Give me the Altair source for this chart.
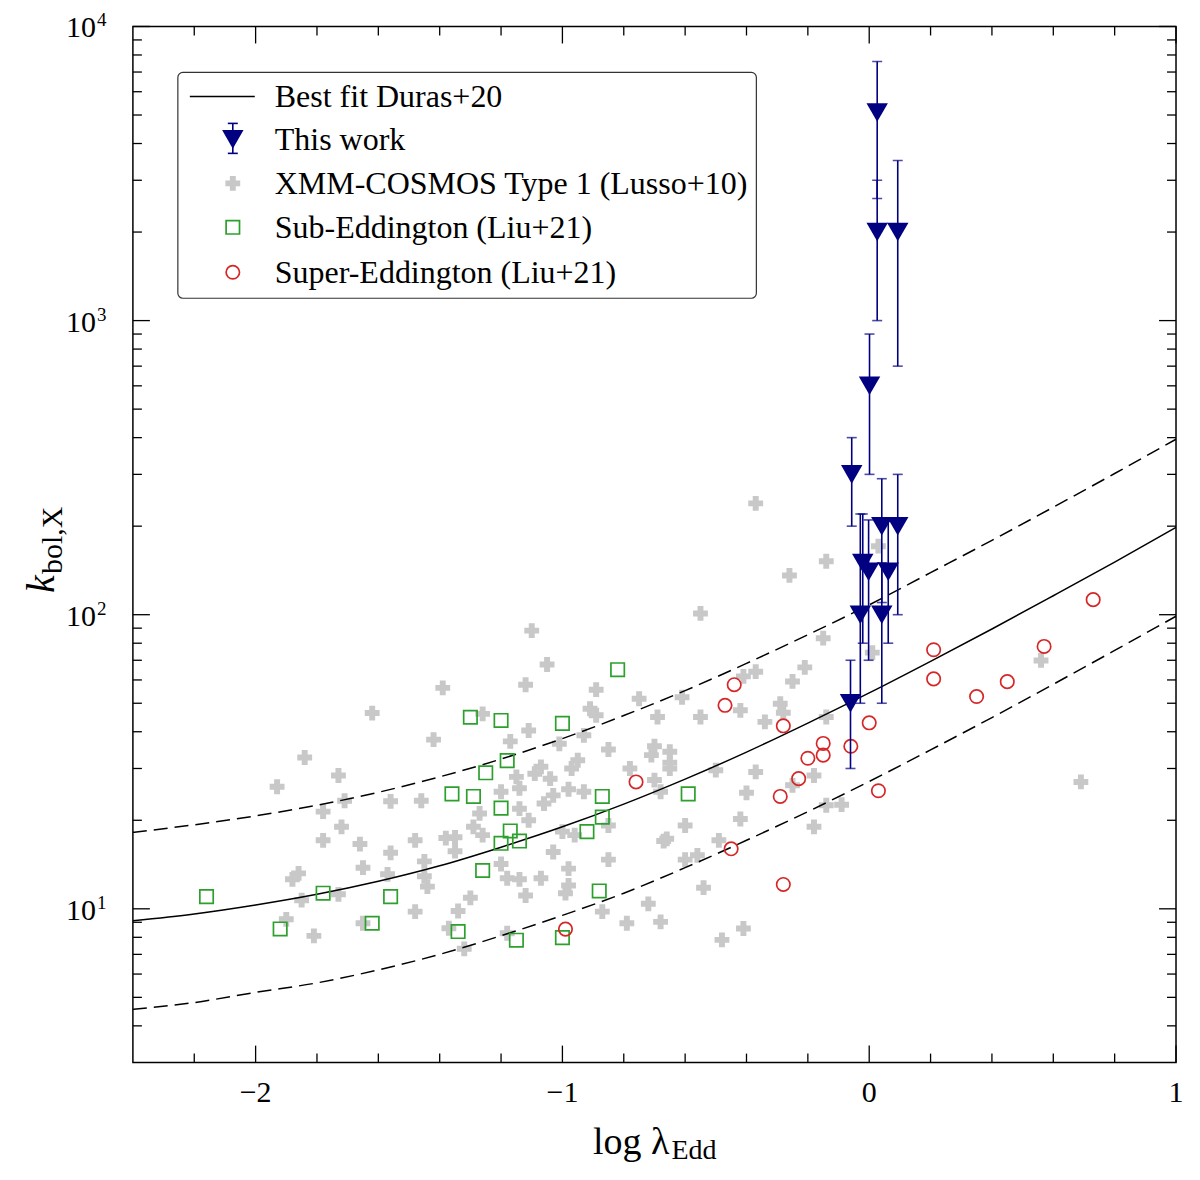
import altair as alt
import pandas as pd

# best-fit relation and its factor-2 band
fit_lam = [-2.4, -2.2, -2.0, -1.8, -1.6, -1.4, -1.2, -1.0, -0.8, -0.6, -0.4, -0.2, 0.0, 0.2, 0.4, 0.6, 0.8, 1.0]
fit_best = [9.1, 9.6, 10.3, 11.2, 12.4, 14.0, 16.2, 19.0, 22.7, 27.6, 34.1, 42.8, 54.2, 69.4, 89.4, 116, 151, 198]
fit_upper = [18.2, 19.3, 20.7, 22.5, 24.9, 28.1, 32.3, 37.9, 45.4, 55.2, 68.3, 85.5, 108, 139, 179, 232, 302, 395]
fit_lower = [4.55, 4.8, 5.2, 5.6, 6.2, 7.0, 8.1, 9.5, 11.3, 13.8, 17.1, 21.4, 27.1, 34.7, 44.7, 58, 75.6, 98.8]

# this work (upper/lower ends of the error bars)
this_lam = [0.026, 0.026, 0.093, 0.001, -0.057, 0.041, 0.041, 0.093, 0.062, -0.029, -0.021, -0.002, -0.061]
this_k = [5100, 2000, 2000, 600, 300, 200, 100, 200, 140, 100, 150, 140, 50]
this_lo = [2600, 1000, 700, 300, 200, 110, 50, 100, 80, 50, 80, 70, 30]
this_hi = [7600, 3000, 3500, 900, 400, 290, 150, 300, 210, 220, 220, 210, 70]

# XMM-COSMOS type 1 (Lusso+10)
xmm_lam = [-1.39, -1.62, -1.42, -1.84, -1.73, -1.93, -1.71, -1.56, -1.46, -1.78,
           -1.72, -1.78, -1.66, -1.56, -1.48, -1.38, -1.35, -1.35, -1.29, -1.26,
           -1.27, -1.26, -1.17, -1.11, -1.12, -1.20, -1.15, -1.14, -1.14, -1.10,
           -1.86, -1.88, -1.85, -1.73, -1.65, -1.57, -1.45, -1.45, -1.44, -1.48,
           -1.34, -1.30, -1.20, -1.18, -1.14, -1.12, -1.90, -1.81, -1.65, -1.32,
           -1.18, -1.37, -1.05, -0.89, -0.91, -0.89, -1.01, -0.93, -0.85, -0.95,
           -0.97, -1.07, -1.09, -1.04, -0.98, -0.93, -1.03, -1.06, -1.11, -0.85,
           -1.00, -0.96, -1.03, -1.07, -0.98, -0.85, -0.98, -0.99, -0.87, -0.79,
           -0.55, -0.75, -0.61, -0.41, -0.37, -0.21, -0.25, -0.15, -0.69, -0.55,
           -0.42, -0.29, -0.28, -0.34, -0.14, -0.70, -0.71, -0.65, -0.65, -0.65,
           -0.78, -0.50, -0.37, -0.18, -0.70, -0.68, -0.40, -0.25, -0.60, -0.42,
           -0.18, -0.67, -0.66, -0.49, -0.60, -0.56, -0.54, -0.72, -0.68, -0.48,
           -0.41, -0.37, 0.03, -0.14, -0.26, 0.01, -0.14, -0.09, 0.56, 0.69]
xmm_k = [56.4, 46.3, 37.6, 32.7, 28.4, 26.0, 23.3, 23.2, 23.3, 21.4,
         19.0, 17.1, 16.6, 15.5, 17.1, 17.4, 17.5, 15.7, 19.0, 17.8,
         21.1, 46.0, 37.1, 40.4, 57.8, 25.0, 28.1, 25.7, 21.9, 88.3,
         13.2, 12.6, 10.7, 11.2, 13.8, 13.1, 14.5, 12.9, 11.9, 9.78,
         9.83, 10.9, 14.2, 12.7, 12.6, 11.1, 9.21, 8.09, 8.93, 7.31,
         8.26, 8.59, 67.7, 55.6, 47.9, 45.5, 36.4, 38.9, 34.8, 32.0,
         30.0, 30.4, 28.8, 27.7, 25.5, 25.0, 24.3, 22.8, 20.0, 19.2,
         18.3, 17.8, 15.6, 12.7, 13.7, 14.7, 12.0, 11.3, 9.78, 8.93,
         101, 51.8, 52.4, 61.7, 64.0, 66.2, 59.3, 83.2, 44.9, 44.9,
         47.3, 49.8, 46.4, 43.2, 44.9, 35.7, 33.3, 34.2, 31.4, 30.0,
         30.0, 29.6, 29.2, 28.4, 27.4, 25.0, 24.8, 26.3, 19.2, 20.2,
         19.0, 17.0, 17.3, 17.1, 14.7, 15.2, 11.8, 10.4, 9.03, 7.84,
         8.57, 239, 171, 152, 136, 74.3, 22.5, 22.6, 69.9, 27.0]

# Liu+21
sub_lam = [-2.16, -1.92, -1.78, -1.62, -1.56, -1.34, -1.26, -1.36, -1.29, -1.30, -1.20, -1.18, -1.25,
           -1.20, -1.17, -1.20, -1.14, -1.15, -1.00, -0.82, -0.87, -0.87, -0.92, -0.59, -0.88, -1.00]
sub_k = [11.0, 8.54, 11.3, 8.93, 11.0, 8.37, 13.5, 24.6, 24.1, 44.8, 43.7, 31.9, 29.0,
         22.0, 18.4, 16.7, 17.0, 7.82, 42.7, 65.0, 24.1, 20.5, 18.3, 24.6, 11.5, 7.98]
sup_lam = [-0.44, -0.47, -0.28, -0.76, -0.29, -0.23, -0.20, -0.15, -0.15, -0.45, -0.28,
           -0.99, -0.06, 0.00, 0.03, 0.21, 0.21, 0.35, 0.45, 0.57, 0.73]
sup_k = [57.8, 49.2, 41.9, 27.0, 24.1, 27.7, 32.5, 36.5, 33.3, 16.0, 12.1,
         8.53, 35.7, 42.9, 25.2, 76.0, 60.5, 52.7, 59.2, 78.0, 112.5]

legend_labels = ["Best fit Duras+20", "This work", "XMM-COSMOS Type 1 (Lusso+10)",
                 "Sub-Eddington (Liu+21)", "Super-Eddington (Liu+21)"]

x_major = [-2, -1, 0, 1]
x_major_labels = ["−2", "−1", "0", "1"]
x_minor = [-2.2, -1.8, -1.6, -1.4, -1.2, -0.8, -0.6, -0.4, -0.2, 0.2, 0.4, 0.6, 0.8]
y_major = [10, 100, 1000, 10000]
y_label_base = ["10", "10", "10", "10"]
y_label_exp = ["1", "2", "3", "4"]
y_minor = [4, 5, 6, 7, 8, 9, 20, 30, 40, 50, 60, 70, 80, 90,
           200, 300, 400, 500, 600, 700, 800, 900, 2000, 3000, 4000, 5000, 6000, 7000, 8000, 9000]

W, H = 1044, 1037
SERIF = "Liberation Serif"
NAVY = "#000080"
GREEN = "#2ca02c"
RED = "#d62728"
GREY = "#c8c8c8"

xs = alt.Scale(domain=[-2.4, 1.0], nice=False, zero=False)
ys = alt.Scale(type="log", domain=[3, 10000], nice=False)

fit_df = pd.DataFrame({"lam": fit_lam, "best": fit_best, "upper": fit_upper, "lower": fit_lower})
this_df = pd.DataFrame({"lam": this_lam, "k": this_k, "lo": this_lo, "hi": this_hi})
xmm_df = pd.DataFrame({"lam": xmm_lam, "k": xmm_k})
sub_df = pd.DataFrame({"lam": sub_lam, "k": sub_k})
sup_df = pd.DataFrame({"lam": sup_lam, "k": sup_k})

X = alt.X("lam:Q", scale=xs, axis=None)


def Y(field):
    return alt.Y(field, type="quantitative", scale=ys, axis=None)


xmm = alt.Chart(xmm_df).mark_point(shape="cross", filled=True, color=GREY, opacity=1,
                                   size=220, strokeWidth=0, clip=True).encode(x=X, y=Y("k"))

best = alt.Chart(fit_df).mark_line(color="black", strokeWidth=1.5, interpolate="monotone", clip=True).encode(
    x=X, y=Y("best"))
upper = alt.Chart(fit_df).mark_line(color="black", strokeWidth=1.5, strokeDash=[14, 7],
                                    interpolate="monotone", clip=True).encode(x=X, y=Y("upper"))
lower = alt.Chart(fit_df).mark_line(color="black", strokeWidth=1.5, strokeDash=[14, 7],
                                    interpolate="monotone", clip=True).encode(x=X, y=Y("lower"))

sub = alt.Chart(sub_df).mark_point(shape="square", filled=False, color=GREEN, size=180,
                                   strokeWidth=1.7, opacity=1, clip=True).encode(x=X, y=Y("k"))
sup = alt.Chart(sup_df).mark_point(shape="circle", filled=False, color=RED, size=180,
                                   strokeWidth=1.7, opacity=1, clip=True).encode(x=X, y=Y("k"))

err = alt.Chart(this_df).mark_rule(color=NAVY, strokeWidth=1.6, clip=True).encode(
    x=X, y=Y("lo"), y2="hi:Q")
cap_lo = alt.Chart(this_df).mark_tick(color=NAVY, orient="horizontal", size=10, thickness=1.6,
                                      clip=True).encode(x=X, y=Y("lo"))
cap_hi = alt.Chart(this_df).mark_tick(color=NAVY, orient="horizontal", size=10, thickness=1.6,
                                      clip=True).encode(x=X, y=Y("hi"))
tri = alt.Chart(this_df).mark_point(shape="triangle-down", filled=True, color=NAVY, size=460,
                                    strokeWidth=0, opacity=1, clip=True).encode(x=X, y=Y("k"))


def x_ticks(vals, length):
    d = pd.DataFrame({"v": vals})
    xv = alt.X("v:Q", scale=xs, axis=None)
    bot = alt.Chart(d).mark_rule(color="black", strokeWidth=1.3).encode(
        x=xv, y=alt.value(H), y2=alt.value(H - length))
    top = alt.Chart(d).mark_rule(color="black", strokeWidth=1.3).encode(
        x=xv, y=alt.value(0), y2=alt.value(length))
    return [bot, top]


def y_ticks(vals, length):
    d = pd.DataFrame({"v": vals})
    left = alt.Chart(d).mark_rule(color="black", strokeWidth=1.3).encode(
        y=Y("v"), x=alt.value(0), x2=alt.value(length))
    right = alt.Chart(d).mark_rule(color="black", strokeWidth=1.3).encode(
        y=Y("v"), x=alt.value(W), x2=alt.value(W - length))
    return [left, right]


ticks = x_ticks(x_major, 17) + x_ticks(x_minor, 9) + y_ticks(y_major, 17) + y_ticks(y_minor, 9)

# tick labels
xlab_df = pd.DataFrame({"v": x_major, "t": x_major_labels})
ylab_df = pd.DataFrame({"v": y_major, "b": y_label_base, "e": y_label_exp})
labels = [
    alt.Chart(xlab_df).mark_text(font=SERIF, fontSize=30, align="center", baseline="middle",
                                 color="black").encode(
        x=alt.X("v:Q", scale=xs, axis=None), y=alt.value(1067), text="t:N"),
    alt.Chart(ylab_df).mark_text(font=SERIF, fontSize=30, align="right", baseline="middle", dy=2,
                                 color="black").encode(x=alt.value(-37), y=Y("v"), text="b:N"),
    alt.Chart(ylab_df).mark_text(font=SERIF, fontSize=19, align="left", baseline="middle", dy=-6,
                                 color="black").encode(x=alt.value(-36), y=Y("v"), text="e:N"),
]

# hand-built legend in the upper left corner
one = pd.DataFrame({"d": [0]})
row_y = [70, 113, 157, 201, 246]
sym_x = 100
leg = [alt.Chart(one).mark_rect(fill="white", stroke="#333333", strokeWidth=1.2, cornerRadius=5).encode(
    x=alt.value(45), x2=alt.value(624), y=alt.value(46), y2=alt.value(272))]
leg.append(alt.Chart(one).mark_rule(color="black", strokeWidth=1.5).encode(
    x=alt.value(57), x2=alt.value(122), y=alt.value(row_y[0])))
leg.append(alt.Chart(one).mark_rule(color=NAVY, strokeWidth=1.6).encode(
    x=alt.value(sym_x), y=alt.value(row_y[1] - 16), y2=alt.value(row_y[1] + 14)))
for cy in (row_y[1] - 16, row_y[1] + 14):
    leg.append(alt.Chart(one).mark_rule(color=NAVY, strokeWidth=1.6).encode(
        x=alt.value(sym_x - 5), x2=alt.value(sym_x + 5), y=alt.value(cy)))
leg.append(alt.Chart(one).mark_point(shape="triangle-down", filled=True, color=NAVY, size=460,
                                     strokeWidth=0, opacity=1).encode(
    x=alt.value(sym_x), y=alt.value(row_y[1])))
leg.append(alt.Chart(one).mark_point(shape="cross", filled=True, color=GREY, size=220, strokeWidth=0,
                                     opacity=1).encode(x=alt.value(sym_x), y=alt.value(row_y[2])))
leg.append(alt.Chart(one).mark_point(shape="square", filled=False, color=GREEN, size=180, strokeWidth=1.7,
                                     opacity=1).encode(x=alt.value(sym_x), y=alt.value(row_y[3])))
leg.append(alt.Chart(one).mark_point(shape="circle", filled=False, color=RED, size=180, strokeWidth=1.7,
                                     opacity=1).encode(x=alt.value(sym_x), y=alt.value(row_y[4])))
for lab, cy in zip(legend_labels, row_y):
    leg.append(alt.Chart(one).mark_text(text=lab, font=SERIF, fontSize=32, align="left", baseline="middle",
                                        color="black").encode(x=alt.value(142), y=alt.value(cy + 1)))

# axis titles with sub-scripts
titles = [
    alt.Chart(one).mark_text(text="log λ", font=SERIF, fontSize=38, align="right", baseline="alphabetic",
                             color="black").encode(x=alt.value(537), y=alt.value(1128)),
    alt.Chart(one).mark_text(text="Edd", font=SERIF, fontSize=28, align="left", baseline="alphabetic",
                             color="black").encode(x=alt.value(539), y=alt.value(1133)),
    alt.Chart(one).mark_text(text="k", font=SERIF, fontSize=40, fontStyle="italic", angle=270, align="left",
                             baseline="alphabetic", color="black").encode(x=alt.value(-79), y=alt.value(567)),
    alt.Chart(one).mark_text(text="bol,X", font=SERIF, fontSize=30, angle=270, align="left",
                             baseline="alphabetic", color="black").encode(x=alt.value(-71), y=alt.value(548)),
]

chart = alt.layer(xmm, best, upper, lower, sub, sup, err, cap_lo, cap_hi, tri,
                  *ticks, *labels, *leg, *titles).properties(
    width=W, height=H,
    autosize=alt.AutoSizeParams(type="none"),
    padding={"left": 125, "top": 18, "right": 16, "bottom": 104},
).configure_view(
    stroke="black", strokeWidth=1.5
)

chart.save("out.html", embed_options={"renderer": "svg", "actions": False})
